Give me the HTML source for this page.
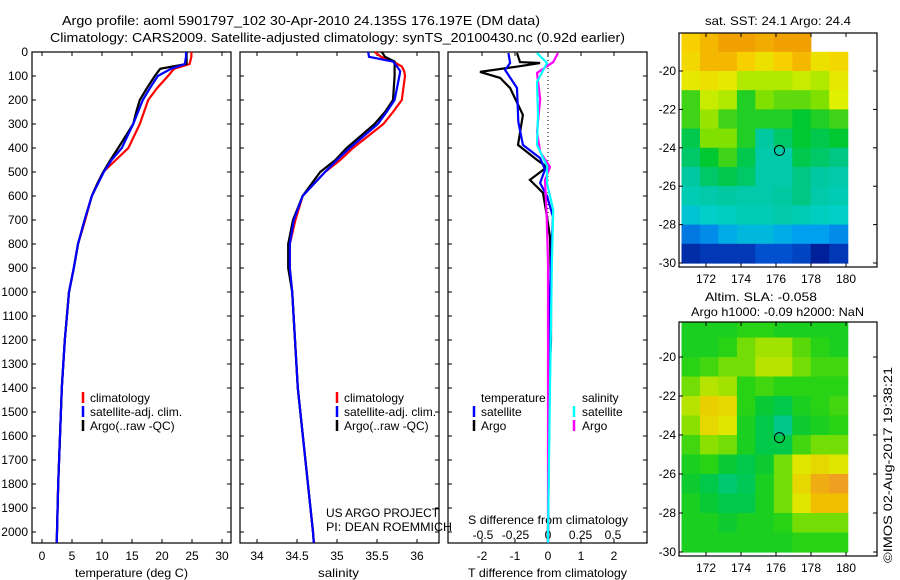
<!DOCTYPE html>
<html><head><meta charset="utf-8"><style>
body{margin:0;background:#fff}
svg{display:block;font-family:"Liberation Sans",sans-serif;font-size:12px}
</style></head><body>
<svg id="c" width="900" height="580" xmlns="http://www.w3.org/2000/svg">
<text x="62" y="25" font-size="13" textLength="478" lengthAdjust="spacingAndGlyphs">Argo profile: aoml 5901797_102 30-Apr-2010 24.135S 176.197E (DM data)</text>
<text x="50" y="42" font-size="13" textLength="575" lengthAdjust="spacingAndGlyphs">Climatology: CARS2009. Satellite-adjusted climatology: synTS_20100430.nc (0.92d earlier)</text>
<text x="705" y="25" textLength="146" lengthAdjust="spacingAndGlyphs">sat. SST: 24.1 Argo: 24.4</text>
<text x="705" y="301" textLength="112" lengthAdjust="spacingAndGlyphs">Altim. SLA: -0.058</text>
<text x="691" y="316" textLength="173" lengthAdjust="spacingAndGlyphs">Argo h1000: -0.09 h2000: NaN</text>
<text transform="translate(892,465) rotate(-90)" text-anchor="middle" textLength="196" lengthAdjust="spacingAndGlyphs">©IMOS 02-Aug-2017 19:38:21</text>
<text x="326" y="517" textLength="113" lengthAdjust="spacingAndGlyphs">US ARGO PROJECT</text>
<text x="326" y="531" textLength="126" lengthAdjust="spacingAndGlyphs">PI: DEAN ROEMMICH</text>
<g id="g"></g>
</svg>
<script>
// ---- data ----
const depT = [0,20,50,70,100,150,200,250,300,400,450,500,550,600,700,800,900,1000,1200,1400,1600,1800,2000,2045];
const tClim = [24.9,24.9,24.6,22,21,19.2,17.7,17,16.3,14.4,12.3,10.2,9.2,8.3,7.2,6,5.3,4.5,3.8,3.3,3,2.7,2.5,2.45];
const tArgo = [24.1,24.1,24.1,19.7,18.8,17.5,16.3,15.7,15.2,12.7,11.4,10.2,9.2,8.3,7.1,6,5.3,4.5,3.8,3.3,3,2.7,2.5,2.45];
const tSat  = [24.0,24.0,23.8,21.5,19.3,18,16.8,16,15.2,13.3,11.6,10.3,9.3,8.3,7.1,6,5.3,4.5,3.8,3.3,3,2.7,2.5,2.45];
const depS = [0,20,40,60,80,100,200,250,300,400,450,500,600,700,800,900,1000,1400,2000,2045];
const sClim = [35.47,35.55,35.7,35.81,35.84,35.85,35.81,35.7,35.58,35.2,35.04,34.85,34.57,34.48,34.41,34.41,34.44,34.51,34.7,34.71];
const sArgo = [35.56,35.6,35.72,35.72,35.72,35.72,35.7,35.6,35.47,35.12,34.98,34.79,34.57,34.45,34.39,34.39,34.44,34.51,34.7,34.71];
const sSat  = [35.39,35.4,35.7,35.75,35.79,35.78,35.72,35.62,35.51,35.16,35.0,34.85,34.57,34.46,34.41,34.41,34.44,34.51,34.7,34.71];
const depArgoTD = [4,42,46,60,83,108,150,262,387,450,479,533,587,687,770,1000,1200,1400,2000,2045];
const argoTD = [-0.94,-0.85,-0.24,-0.9,-2.06,-1.45,-1.15,-0.76,-0.91,-0.33,-0.03,-0.55,-0.15,-0.03,0.06,0.09,0.09,0.03,0,0];
const depSatTD = [4,46,75,150,290,387,442,490,546,600,687,770,1000,1400,2000,2045];
const satTD = [-1.2,-1.15,-1.3,-0.94,-0.9,-0.76,-0.24,-0.09,-0.24,-0.03,0.15,0.12,0.06,0.05,0,0];
const depArgoSD = [4,42,87,196,333,417,479,533,687,875,1400,2000,2045];
const argoSD = [0.077,0.04,-0.085,-0.06,-0.085,-0.06,0.015,-0.023,-0.01,0,0,0,0];
const depSatSD = [4,46,125,262,387,475,546,658,875,1400,2000,2045];
const satSD = [-0.085,-0.008,-0.085,-0.077,-0.085,-0.008,-0.008,0.04,0.03,0.015,0,0];
const depthTicks = [0,100,200,300,400,500,600,700,800,900,1000,1100,1200,1300,1400,1500,1600,1700,1800,1900,2000];
const tTicks = [0,5,10,15,20,25,30];
const sTicks = [34,34.5,35,35.5,36];
const tdTicks = [-2,-1,0,1,2];
const sdTicks = [-0.5,-0.25,0,0.25,0.5];
const sdTickLabels = ['-0.5','-0.25','0','0.25','0.5'];
const mapLatTicks = [-20,-22,-24,-26,-28,-30];
const mapLonTicks = [172,174,176,178,180];
const sstGrid = [
[25.6,25.8,26,26,25.9,26.1,26,NaN,NaN],
[25.5,25.8,25.8,25.6,25.4,25.6,25.8,25.4,25.5],
[25.3,25.4,25.3,25.0,25.0,25.0,25.1,25.0,25.3],
[24.6,25.1,25.0,24.5,24.8,24.7,24.7,24.8,25.2],
[24.6,24.9,24.6,24.5,24.5,24.5,24.4,24.5,24.6],
[24.3,24.8,24.8,24.5,24.0,24.2,24.4,24.3,24.4],
[24.2,24.4,24.6,24.3,23.9,23.9,24.3,24.2,24.1],
[24.0,24.2,24.3,24.2,23.9,23.9,24.1,24.0,23.9],
[23.8,23.9,24.0,23.9,23.9,24.0,24.1,23.9,23.8],
[23.5,23.6,23.7,23.8,23.8,23.9,23.8,23.7,23.6],
[23.0,23.1,23.3,23.4,23.4,23.3,23.2,23.2,23.1],
[22.5,22.6,22.6,22.6,22.8,22.8,22.7,22.4,22.6]];
const slaGrid = [
[0,0,0,0.02,0.02,0,0,0,0],
[0,0,0.02,0.05,0.07,0.07,0.04,0.02,0],
[0.02,0.03,0.05,0.05,0.08,0.08,0.05,0.03,0.03],
[0.05,0.08,0.07,0.02,0.03,0.02,0.02,0.02,0.02],
[0.08,0.13,0.12,0.02,-0.03,-0.05,0,0.02,0.03],
[0.06,0.12,0.1,0,-0.05,-0.1,-0.02,0,0.02],
[0.03,0.06,0.05,0,-0.05,-0.05,0.03,0.05,0.05],
[0,0.02,-0.03,-0.05,-0.02,0.05,0.1,0.12,0.1],
[-0.02,-0.05,-0.08,-0.06,0,0.05,0.12,0.18,0.2],
[0,-0.03,-0.05,-0.05,0,0.05,0.1,0.15,0.15],
[0,0,-0.02,0,0,0.02,0.05,0.05,0.05],
[0,0,0,0,0,0,0.02,0.02,0.02]];
const gridLat0 = -18, gridLon0 = 170.6, gridLonStep = 1.055;
const floatLon = 176.197, floatLat = -24.135;

// ---- helpers ----
const NS='http://www.w3.org/2000/svg', G=document.getElementById('g');
function mk(tag,attrs,parent){const e=document.createElementNS(NS,tag);for(const k in attrs)e.setAttribute(k,attrs[k]);(parent||G).appendChild(e);return e;}
const yD = d => 52 + d*0.24;
const xT = v => 42 + v*6;
const xS = v => 257 + (v-34)*80;
const xTD = v => 548 + v*33;
const xSD = v => 548 + v*130;
const panels=[[32,231],[240,439],[448,647]];
panels.forEach((p,i)=>{
  const r=mk('rect',{x:p[0],y:52,width:p[1]-p[0],height:491,fill:'none',stroke:'#000','stroke-width':1.2});
  
  
  depthTicks.forEach(d=>{
    mk('line',{x1:p[0],x2:p[0]+4,y1:yD(d),y2:yD(d),stroke:'#000'});
    mk('line',{x1:p[1],x2:p[1]-4,y1:yD(d),y2:yD(d),stroke:'#000'});
  });
});
depthTicks.forEach(d=>{
  const t=mk('text',{x:28,y:yD(d)+4,'text-anchor':'end'});t.textContent=d;
  
  
});
function xticks(arr,fx,labels,y){arr.forEach((v,i)=>{
  mk('line',{x1:fx(v),x2:fx(v),y1:52,y2:56,stroke:'#000'});
  mk('line',{x1:fx(v),x2:fx(v),y1:543,y2:539,stroke:'#000'});
  const t=mk('text',{x:fx(v),y:y,'text-anchor':'middle'});t.textContent=labels?labels[i]:v;
  
  
});}
xticks(tTicks,xT,null,560);
xticks(sTicks,xS,null,560);
xticks(tdTicks,xTD,null,560);
sdTicks.forEach((v,i)=>{const t=mk('text',{x:xSD(v),y:539,'text-anchor':'middle'});t.textContent=sdTickLabels[i];
  
  });
function lbl(x,y,s,name,anchor,len){const a={x:x,y:y,'text-anchor':anchor||'middle'};
  if(len){a.textLength=len;a.lengthAdjust='spacingAndGlyphs';}
  const t=mk('text',a);t.textContent=s;
  
  return t;}
lbl(75,577,'temperature (deg C)','x-axis-title-temperature','start',113);
lbl(318,577,'salinity','x-axis-title-salinity','start',41);
lbl(468,577,'T difference from climatology','x-axis-title-t-diff','start',159);
lbl(468,524,'S difference from climatology','x-axis-title-s-diff','start',160);
mk('line',{x1:548,x2:548,y1:52,y2:543,stroke:'#000','stroke-dasharray':'1,3'});
function line(dep,vals,fx,col,name){
  const pts=dep.map((d,i)=>fx(vals[i]).toFixed(1)+','+yD(d).toFixed(1)).join(' ');
  const p=mk('polyline',{points:pts,fill:'none',stroke:col,'stroke-width':2.2});
  
  
}
line(depT,tClim,xT,'#f00','temp-climatology-line');
line(depT,tArgo,xT,'#000','temp-argo-line');
line(depT,tSat,xT,'#00f','temp-satellite-line');
line(depS,sClim,xS,'#f00','sal-climatology-line');
line(depS,sArgo,xS,'#000','sal-argo-line');
line(depS,sSat,xS,'#00f','sal-satellite-line');
line(depArgoTD,argoTD,xTD,'#000','t-diff-argo-line');
line(depSatTD,satTD,xTD,'#00f','t-diff-satellite-line');
line(depArgoSD,argoSD,xSD,'#f0f','s-diff-argo-line');
line(depSatSD,satSD,xSD,'#0ff','s-diff-satellite-line');
function leg(x,tx,y,col,s,name){mk('line',{x1:x,x2:x,y1:y-10,y2:y+1,stroke:col,'stroke-width':2.5});lbl(tx,y,s,name,'start');}
[[83,90],[337,344]].forEach(a=>{
  leg(a[0],a[1],402,'#f00','climatology','legend-climatology');
  leg(a[0],a[1],416,'#00f','satellite-adj. clim.','legend-satellite');
  leg(a[0],a[1],430,'#000','Argo(..raw -QC)','legend-argo');});
lbl(481,402,'temperature','legend-temperature-header','start');
lbl(582,402,'salinity','legend-salinity-header','start');
leg(474,481,416,'#00f','satellite','legend-t-satellite');
leg(474,481,430,'#000','Argo','legend-t-argo');
leg(574,582,416,'#0ff','satellite','legend-s-satellite');
leg(574,582,430,'#f0f','Argo','legend-s-argo');

// ---- maps ----
function cmap(stops,v){
  if(isNaN(v))return null;
  if(v<=stops[0][0])return 'rgb('+stops[0][1]+')';
  for(let i=1;i<stops.length;i++){if(v<=stops[i][0]){const a=stops[i-1],b=stops[i],f=(v-a[0])/(b[0]-a[0]);
    const c=[0,1,2].map(k=>Math.round(a[1][k]+(b[1][k]-a[1][k])*f));return 'rgb('+c+')';}}
  const l=stops[stops.length-1][1];return 'rgb('+l+')';}
const sstStops=[[22.4,[0,32,154]],[22.8,[0,80,208]],[23.2,[0,160,240]],[23.6,[0,208,200]],[24.0,[0,200,160]],[24.4,[0,200,48]],[24.8,[128,224,0]],[25.2,[224,240,0]],[25.6,[248,208,0]],[26.0,[240,160,0]]];
const slaStops=[[-0.15,[0,192,176]],[-0.1,[0,200,140]],[-0.04,[0,200,60]],[0.02,[40,210,20]],[0.06,[140,224,0]],[0.1,[224,230,0]],[0.15,[240,192,0]],[0.2,[240,160,32]]];
function map(top,bottom,latPx,lat20y,grid,stops,name){
  const fy=lat=>lat20y+(-20-lat)*latPx, fx=lon=>706+(lon-172)*17.5;
  grid.forEach((row,r)=>row.forEach((v,c)=>{
    const col=cmap(stops,v);if(!col)return;
    const x0=fx(gridLon0+c*gridLonStep),x1=fx(gridLon0+(c+1)*gridLonStep);
    const y0=Math.max(top,fy(gridLat0-r)),y1=Math.min(bottom-2,fy(gridLat0-r-1));
    const e=mk('rect',{x:x0.toFixed(1),y:y0.toFixed(1),width:(x1-x0+0.6).toFixed(1),height:(y1-y0+0.6).toFixed(1),fill:col});
    
    
  }));
  const f=mk('rect',{x:679,y:top,width:198,height:bottom-top,fill:'none',stroke:'#000','stroke-width':1.2});
  
  
  mapLatTicks.forEach(l=>{const y=fy(l);mk('line',{x1:679,x2:683,y1:y,y2:y,stroke:'#000'});mk('line',{x1:877,x2:873,y1:y,y2:y,stroke:'#000'});
    lbl(676,y+4,String(l),'lat-tick-label','end');});
  mapLonTicks.forEach(l=>{const x=fx(l);mk('line',{x1:x,x2:x,y1:top,y2:top+4,stroke:'#000'});mk('line',{x1:x,x2:x,y1:bottom,y2:bottom-4,stroke:'#000'});
    lbl(x,bottom+16,String(l),'lon-tick-label');});
  const c=mk('circle',{cx:fx(floatLon),cy:fy(floatLat),r:5,fill:'none',stroke:'#000'});
  
  
}
map(33,267,19.2,71,sstGrid,sstStops,'sst-map');
map(322,556,19.5,357,slaGrid,slaStops,'sla-map');
</script>
</body></html>
